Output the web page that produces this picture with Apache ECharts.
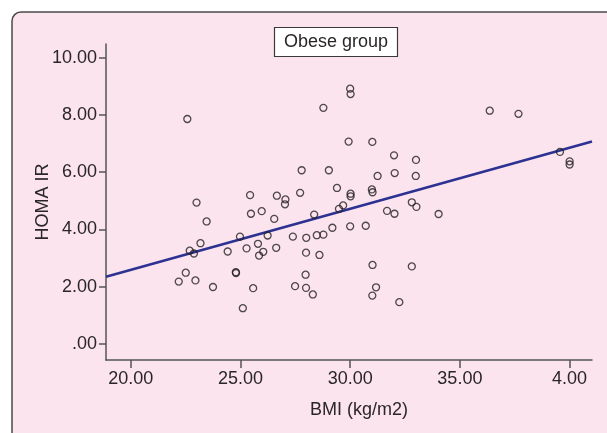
<!DOCTYPE html>
<html>
<head>
<meta charset="utf-8">
<script src="https://cdn.jsdelivr.net/npm/echarts@6/dist/echarts.min.js"></script>
<style>
  html, body { margin: 0; padding: 0; background: #fff; }
  #chart { width: 607px; height: 433px; }
</style>
</head>
<body>
<div id="chart"></div>
<script>
const bmi = [
  22.58, 23.0, 23.46, 23.18, 22.69, 22.88, 22.51, 22.19, 22.95, 23.75,
  24.42, 24.79, 24.8, 24.98, 25.28, 25.44, 25.48, 25.11, 25.58, 25.8,
  25.85, 26.04, 25.97, 26.24, 26.54, 26.63, 26.66, 27.05, 27.03, 27.39,
  27.49, 27.72, 27.79, 28.0, 27.99, 27.97, 27.99, 28.3, 28.36, 28.48,
  28.78, 28.6, 28.78, 29.03, 29.19, 29.4, 29.49, 29.68, 29.93, 30.0,
  30.02, 30.02, 30.02, 30.0, 30.71, 31.01, 30.99, 31.02, 31.02, 31.18,
  31.01, 31.25, 31.68, 32.0, 32.03, 32.02, 32.24, 32.81, 32.81, 33.0,
  32.99, 33.02, 34.03, 36.36, 37.67, 39.56, 40.0, 40.0,
];
const homa = [
  7.86, 4.94, 4.28, 3.52, 3.26, 3.16, 2.49, 2.18, 2.22, 1.99,
  3.23, 2.51, 2.48, 3.75, 3.34, 5.2, 4.55, 1.25, 1.95, 3.5,
  3.09, 3.22, 4.64, 3.79, 4.37, 3.36, 5.18, 5.05, 4.88, 3.75,
  2.02, 5.28, 6.07, 3.71, 3.19, 2.42, 1.96, 1.73, 4.52, 3.8,
  3.82, 3.11, 8.25, 6.07, 4.06, 5.45, 4.72, 4.84, 7.07, 8.92,
  8.73, 5.25, 5.16, 4.11, 4.13, 7.06, 5.4, 5.3, 2.76, 1.98,
  1.69, 5.87, 4.65, 6.59, 5.97, 4.55, 1.46, 2.71, 4.95, 6.43,
  5.87, 4.79, 4.54, 8.15, 8.04, 6.71, 6.38, 6.27,
];
// fit line as drawn in the figure (ends at the axis limits)
const fitX = [18.875, 41.02];
const fitY = [2.35, 7.07];

const xTicks = [20, 25, 30, 35, 40];
const xTickLabels = ['20.00', '25.00', '30.00', '35.00', '4.00'];
const yTicks = [0, 2, 4, 6, 8, 10];
const yTickLabels = ['.00', '2.00', '4.00', '6.00', '8.00', '10.00'];

const TEXT = '#2a2627';
const AXIS = '#555355';
const FONT = '"Liberation Sans", Arial, sans-serif';

const chart = echarts.init(document.getElementById('chart'));

const option = {
  animation: false,
  backgroundColor: '#ffffff',
  graphic: [
    {
      type: 'rect',
      z: -10,
      shape: { x: 12, y: 12, width: 640, height: 460, r: 9 },
      style: { fill: '#fbe4ee', stroke: '#4a4a4a', lineWidth: 1.5 },
      silent: true,
    },
  ],
  title: {
    text: 'Obese group',
    left: 274,
    top: 27,
    padding: [4, 10, 4, 10],
    backgroundColor: '#ffffff',
    borderColor: '#3a3a3a',
    borderWidth: 1.2,
    textStyle: {
      fontFamily: FONT,
      fontSize: 18,
      fontWeight: 'normal',
      lineHeight: 22,
      color: TEXT,
    },
  },
  grid: { left: 106, right: 15, top: 44, bottom: 73 },
  xAxis: {
    type: 'value',
    min: 18.875,
    max: 41.02,
    name: 'BMI (kg/m2)',
    nameLocation: 'middle',
    nameGap: 41,
    nameMoveOverlap: false,
    nameTextStyle: { fontFamily: FONT, fontSize: 18, color: TEXT, padding: [0, 0, 0, 20] },
    splitLine: { show: false },
    axisLine: { show: true, onZero: false, lineStyle: { color: AXIS, width: 1.5 } },
    axisTick: { show: true, length: 8, customValues: xTicks, lineStyle: { color: AXIS, width: 1.5 } },
    axisLabel: {
      customValues: xTicks,
      margin: 10,
      fontFamily: FONT,
      fontSize: 18,
      color: TEXT,
      formatter: (v) => xTickLabels[xTicks.indexOf(v)],
    },
  },
  yAxis: {
    type: 'value',
    min: -0.56,
    max: 10.48,
    name: 'HOMA IR',
    nameLocation: 'middle',
    nameGap: 54,
    nameMoveOverlap: false,
    nameTextStyle: { fontFamily: FONT, fontSize: 18, color: TEXT },
    splitLine: { show: false },
    axisLine: { show: true, onZero: false, lineStyle: { color: AXIS, width: 1.5 } },
    axisTick: { show: true, length: 7, customValues: yTicks, lineStyle: { color: AXIS, width: 1.5 } },
    axisLabel: {
      customValues: yTicks,
      margin: 9,
      fontFamily: FONT,
      fontSize: 18,
      color: TEXT,
      formatter: (v) => yTickLabels[yTicks.indexOf(v)],
    },
  },
  series: [
    {
      type: 'scatter',
      symbol: 'circle',
      symbolSize: 7,
      itemStyle: { color: 'rgba(0,0,0,0)', borderColor: '#231f20', borderWidth: 1.3 },
      data: bmi.map((x, i) => [x, homa[i]]),
      z: 3,
    },
    {
      type: 'line',
      symbol: 'none',
      lineStyle: { color: '#2c3192', width: 2.6 },
      data: fitX.map((x, i) => [x, fitY[i]]),
      z: 2,
    },
  ],
};

chart.setOption(option);
</script>
</body>
</html>
